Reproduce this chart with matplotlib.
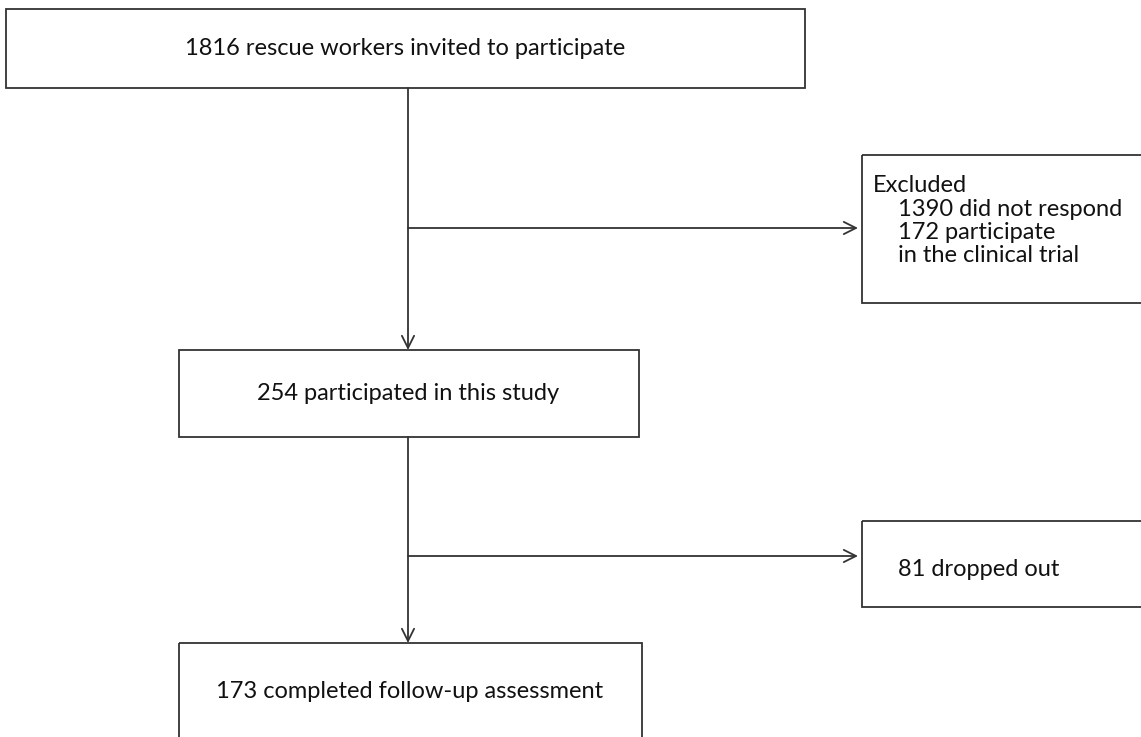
import matplotlib
matplotlib.use('Agg')
import matplotlib.pyplot as plt
from matplotlib.patches import Rectangle

# box texts
main_labels = ['1816 rescue workers invited to participate',
               '254 participated in this study',
               '173 completed follow-up assessment']
excluded_title = 'Excluded'
excluded_lines = ['1390 did not respond', '172 participate', 'in the clinical trial']
dropout_label = '81 dropped out'

# layout (pixels, y downwards)
main_boxes = [(6, 9, 805, 88), (179, 350, 639, 437), (179, 643, 642, 760)]
main_text_pos = [(405, 48), (408, 393), (410, 692)]
side_boxes = [(862, 155, 1160, 303), (862, 521, 1160, 607)]
trunk_x = 408
branch_y = [228, 556]

plt.rcParams['font.family'] = ['Lato', 'DejaVu Sans']
lc = '#333333'
fs = 17

fig = plt.figure(figsize=(11.41, 7.37), dpi=100)
ax = fig.add_axes([0, 0, 1, 1])
ax.set_xlim(0, 1141)
ax.set_ylim(737, 0)
ax.axis('off')

for (x0, y0, x1, y1) in main_boxes + side_boxes:
    ax.add_patch(Rectangle((x0, y0), x1 - x0, y1 - y0, fill=False, ec=lc, lw=1.3))

for (tx, ty), lab in zip(main_text_pos, main_labels):
    ax.text(tx, ty, lab, ha='center', va='center', fontsize=fs, color='#111111')

# vertical arrows between main boxes
arrow = dict(arrowstyle='->', color=lc, lw=1.3, mutation_scale=22, shrinkA=0, shrinkB=0)
ax.annotate('', xy=(trunk_x, main_boxes[1][1]), xytext=(trunk_x, main_boxes[0][3]), arrowprops=arrow)
ax.annotate('', xy=(trunk_x, main_boxes[2][1]), xytext=(trunk_x, main_boxes[1][3]), arrowprops=arrow)

# side arrows
for by in branch_y:
    ax.annotate('', xy=(858, by), xytext=(trunk_x, by), arrowprops=arrow)

# excluded box text
ax.text(873, 185, excluded_title, ha='left', va='center', fontsize=fs, color='#111111')
for i, line in enumerate(excluded_lines):
    ax.text(898, 209 + i * 23, line, ha='left', va='center', fontsize=fs, color='#111111')

ax.text(898, 570, dropout_label, ha='left', va='center', fontsize=fs, color='#111111')

fig.savefig('out.png', dpi=100)
